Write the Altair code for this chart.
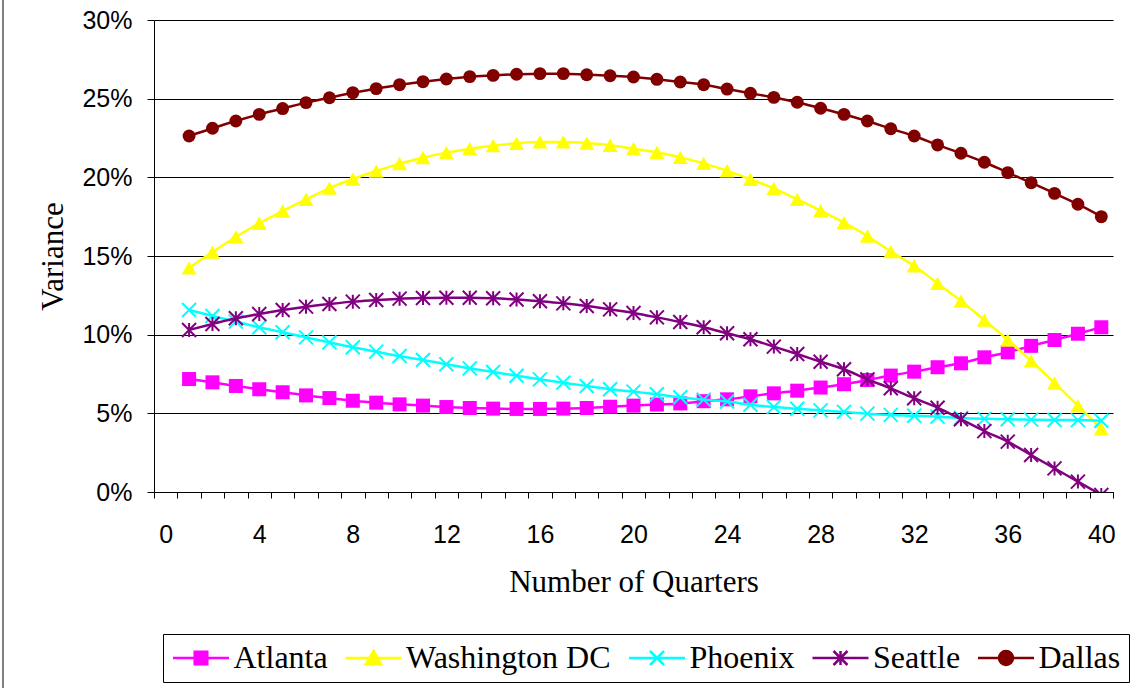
import altair as alt
import pandas as pd

# ---------------- data ----------------
quarters = list(range(1, 41))
cities = ["Atlanta", "Washington DC", "Phoenix", "Seattle", "Dallas"]
colors = ["#FF00FF", "#FFFF00", "#00FFFF", "#800080", "#800000"]

atlanta = [7.18, 6.97, 6.74, 6.53, 6.34, 6.14, 5.97, 5.80, 5.68, 5.57,
           5.49, 5.40, 5.34, 5.30, 5.28, 5.28, 5.30, 5.34, 5.42, 5.49,
           5.56, 5.63, 5.77, 5.89, 6.08, 6.27, 6.44, 6.64, 6.85, 7.12,
           7.40, 7.65, 7.93, 8.18, 8.56, 8.88, 9.29, 9.66, 10.06, 10.47]
washington = [14.25, 15.25, 16.21, 17.08, 17.86, 18.60, 19.32, 19.89, 20.40, 20.87,
              21.25, 21.57, 21.82, 22.01, 22.16, 22.25, 22.25, 22.18, 22.04, 21.82,
              21.59, 21.27, 20.89, 20.42, 19.87, 19.30, 18.60, 17.88, 17.12, 16.27,
              15.28, 14.38, 13.26, 12.14, 10.93, 9.66, 8.34, 6.93, 5.48, 4.02]
phoenix = [11.57, 11.19, 10.83, 10.47, 10.15, 9.83, 9.51, 9.20, 8.92, 8.64,
           8.39, 8.12, 7.86, 7.63, 7.39, 7.16, 6.95, 6.74, 6.53, 6.38,
           6.21, 6.02, 5.87, 5.75, 5.55, 5.40, 5.29, 5.19, 5.09, 4.98,
           4.90, 4.85, 4.79, 4.70, 4.65, 4.62, 4.60, 4.58, 4.57, 4.53]
seattle = [10.30, 10.68, 11.04, 11.31, 11.57, 11.78, 11.95, 12.10, 12.20, 12.29,
           12.33, 12.35, 12.35, 12.31, 12.23, 12.12, 11.99, 11.82, 11.61, 11.38,
           11.10, 10.80, 10.47, 10.09, 9.71, 9.24, 8.77, 8.28, 7.80, 7.16,
           6.59, 5.96, 5.36, 4.62, 3.87, 3.20, 2.35, 1.50, 0.66, -0.19]
dallas = [22.63, 23.12, 23.58, 24.00, 24.37, 24.75, 25.06, 25.38, 25.64, 25.89,
          26.08, 26.25, 26.40, 26.48, 26.55, 26.59, 26.59, 26.52, 26.46, 26.38,
          26.23, 26.06, 25.89, 25.61, 25.34, 25.08, 24.77, 24.39, 24.00, 23.58,
          23.09, 22.63, 22.06, 21.53, 20.96, 20.30, 19.66, 18.98, 18.29, 17.50]

series = [atlanta, washington, phoenix, seattle, dallas]

y_tick_values = [0, 5, 10, 15, 20, 25, 30]          # percent
x_label_step = 4

# marker shapes
plot_shapes = [
    "square",
    "M0,-0.95L1.07,0.95H-1.07Z",
    "M-1,-1L1,1M-1,1L1,-1",
    "M-1,-1L1,1M-1,1L1,-1M0,-1V1",
    "circle",
]
plot_sizes = [196, 196, 196, 196, 167]
plot_filled = [True, True, False, False, True]

legend_shapes = [
    "M-1,0H3M0.55,-0.45H1.45V0.45H0.55Z",
    "M-1,0H3M1,-0.5L1.55,0.45H0.45Z",
    "M-1,0H3M0.5,-0.5L1.5,0.5M0.5,0.5L1.5,-0.5",
    "M-1,0H3M0.5,-0.5L1.5,0.5M0.5,0.5L1.5,-0.5M1,-0.5V0.5",
    "M-1,0H3M0.5,0A0.5,0.5 0 1,1 1.5,0A0.5,0.5 0 1,1 0.5,0Z",
]

rows = []
for c, vals in zip(cities, series):
    for q, v in zip(quarters, vals):
        rows.append({"City": c, "Quarter": q, "Variance": v / 100.0})
df = pd.DataFrame(rows)

# ---------------- layout ----------------
W, H = 959, 472
step = W / 41.0

x_ticks = [i - 0.5 for i in range(42)]
label_expr = ("((datum.value + 0.5) % " + str(x_label_step) +
              " == 0 && datum.value < 40) ? format(datum.value + 0.5, 'd') : ''")

X = alt.X(
    "Quarter:Q",
    scale=alt.Scale(domain=[-0.5, 40.5], nice=False, zero=False),
    axis=alt.Axis(
        values=x_ticks, labelExpr=label_expr, labelOffset=step / 2,
        tickSize=6, tickColor="black", domainColor="black", grid=False,
        labelFont="Liberation Sans", labelFontSize=25, labelColor="black",
        labelPadding=24, labelOverlap=False, labelFlush=False, labelBound=False,
        title="Number of Quarters", titleFont="Liberation Serif", titleFontSize=31,
        titleFontWeight="normal", titleColor="black", titleX=W / 2, titleY=99,
        titleBaseline="alphabetic", titleAlign="center",
    ),
)
Y = alt.Y(
    "Variance:Q",
    scale=alt.Scale(domain=[0, 0.30], nice=False, zero=False),
    axis=alt.Axis(
        values=[v / 100.0 for v in y_tick_values], format=".0%",
        tickSize=7, tickColor="black", domainColor="black",
        grid=True, gridColor="black", gridWidth=1, gridOpacity=1,
        labelFont="Liberation Sans", labelFontSize=25, labelColor="black",
        labelPadding=15, labelOverlap=False, labelFlush=False,
        title="Variance", titleFont="Liberation Serif", titleFontSize=31,
        titleFontWeight="normal", titleColor="black", titleX=-92, titleY=H / 2,
        titleAngle=270, titleBaseline="alphabetic", titleAlign="center",
    ),
)

base = alt.Chart(df).encode(x=X, y=Y)

layers = []
for c, col, shp, sz, fl in zip(cities, colors, plot_shapes, plot_sizes, plot_filled):
    sub = base.transform_filter(alt.datum.City == c)
    layers.append(sub.mark_line(color=col, strokeWidth=2.5, interpolate="monotone", clip=True))
    layers.append(sub.mark_point(shape=shp, size=sz, filled=fl, color=col, opacity=1,
                                 strokeWidth=2, clip=True))

leg = alt.Legend(
    title=None, orient="none", legendX=9, legendY=614, direction="horizontal",
    symbolSize=784, symbolStrokeWidth=2.5, symbolOpacity=1,
    labelOffset=30.5, columnPadding=12.5, padding=8,
    strokeColor="black", fillColor="white",
    labelFont="Liberation Serif", labelFontSize=32, labelColor="black", labelLimit=0,
)
legend_layer = base.transform_filter("false").mark_point(filled=True, opacity=1, strokeWidth=2.5).encode(
    fill=alt.Fill("City:N", scale=alt.Scale(domain=cities, range=colors), legend=leg),
    stroke=alt.Stroke("City:N", scale=alt.Scale(domain=cities, range=colors), legend=leg),
    shape=alt.Shape("City:N", scale=alt.Scale(domain=cities, range=legend_shapes), legend=leg),
)
layers.append(legend_layer)

frame = alt.Chart(pd.DataFrame({"k": [0]})).mark_rule(color="black", strokeWidth=1).encode(
    x=alt.value(-151), y=alt.value(-20), y2=alt.value(668)
)
layers.append(frame)

chart = alt.layer(*layers).properties(
    width=W, height=H,
    autosize=alt.AutoSizeParams(type="none"),
    padding={"left": 154, "top": 20, "right": 27, "bottom": 196},
    background="white",
).configure_view(stroke=None)

chart.save("out.html", embed_options={"renderer": "svg", "actions": False})
